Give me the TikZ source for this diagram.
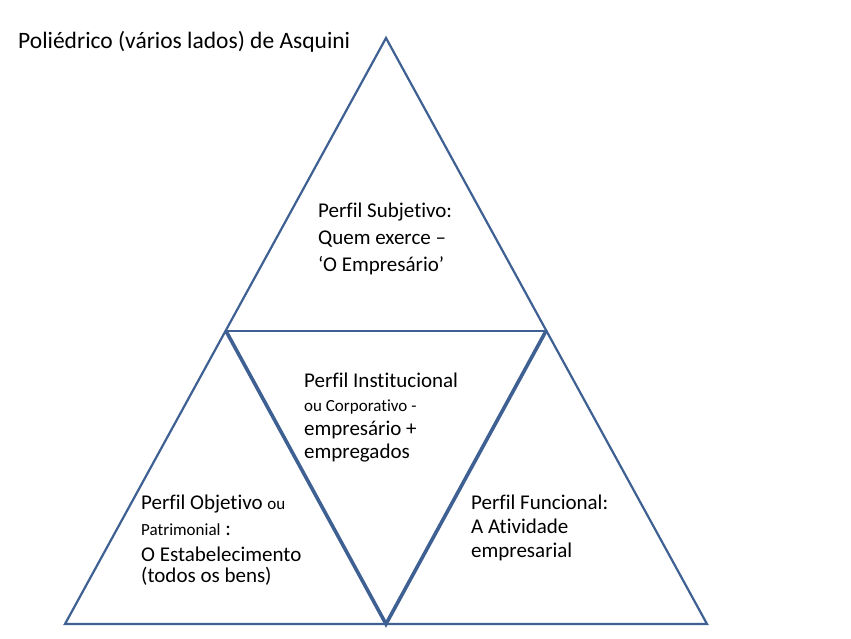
\documentclass[tikz,border=0pt]{standalone}
\usepackage{fontspec}
\setmainfont{Carlito}[Ligatures=NoCommon]
\usetikzlibrary{positioning}
\definecolor{edgeblue}{RGB}{62,96,146}
\tikzset{
    outline/.style={draw=edgeblue, line width=2.2pt, line join=miter},
    inner/.style={draw=edgeblue, line width=3.6pt, line cap=round},
    midline/.style={draw=edgeblue, line width=2.8pt},
    facetxt/.style={anchor=north west, inner sep=0pt, align=left,
                    font=\fontsize{21}{26}\selectfont},
}
\newcommand{\smalltxt}[1]{{\fontsize{17}{19}\selectfont #1}}

\begin{document}
\begin{tikzpicture}[x=1pt, y=-1pt]
    \useasboundingbox (0,0) rectangle (851,638);
    % vertices
    \coordinate (apex) at (386,38);
    \coordinate (bl) at (65,624);
    \coordinate (br) at (707,624);
    \coordinate (ml) at (226,331);
    \coordinate (mr) at (546,331);
    \coordinate (mb) at (386,624);

    \node[anchor=base west, inner sep=0pt, font=\fontsize{23.5}{28}\selectfont] (title) at (18,48)
        {Poliédrico (vários lados) de Asquini};

    \draw[outline] (apex) -- (br) -- (bl) -- cycle;
    \draw[midline] (ml) -- (mr);
    \draw[inner] (ml) -- (mb) -- (mr);

    \node[facetxt] (subj) at (318,203)
        {Perfil Subjetivo:\\[1pt]Quem exerce --\\[1pt]`O Empresário'};
    \node[facetxt] (inst) at (304,373)
        {Perfil Institucional\\[-2pt]\smalltxt{ou Corporativo -}\\[-2pt]empresário +\\[-3pt]empregados};
    \node[facetxt] (obj) at (141,495)
        {Perfil Objetivo \smalltxt{ou}\\\smalltxt{Patrimonial} :\\O Estabelecimento\\[-5pt](todos os bens)};
    \node[facetxt] (func) at (471,495)
        {Perfil Funcional:\\[-2pt]A Atividade\\[-2pt]empresarial};
\end{tikzpicture}
\end{document}
